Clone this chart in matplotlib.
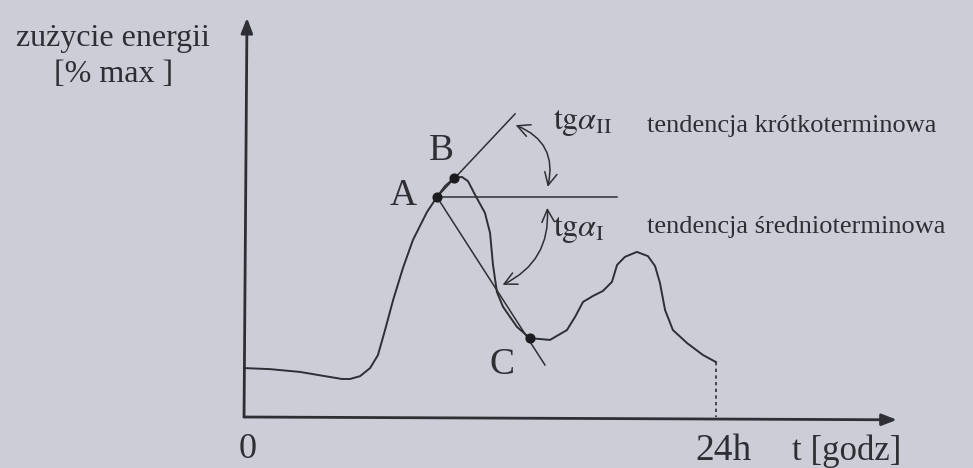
import matplotlib
matplotlib.use('Agg')
import matplotlib.pyplot as plt
from matplotlib.patches import FancyArrowPatch

plt.rcParams['font.family'] = ['Liberation Serif', 'DejaVu Serif']
plt.rcParams['mathtext.fontset'] = 'stix'

# daily energy use, hours vs % of max
hours = [0.0, 1.32, 2.85, 4.12, 4.98, 5.39, 5.90, 6.41, 6.81, 7.17, 7.58, 8.08,
         8.59, 9.30, 9.81, 10.22, 10.68, 11.08, 11.39, 11.75, 12.25, 12.51,
         12.66, 12.86, 13.17, 13.88, 14.54, 15.56, 16.42, 16.83, 17.24, 17.75,
         18.25, 18.71, 18.97, 19.37, 19.98, 20.54, 20.90, 21.15, 21.41, 21.81,
         22.53, 23.34, 24.0]
load = [13.9, 13.6, 12.8, 11.6, 10.8, 10.8, 11.6, 13.9, 17.6, 24.7, 33.2, 42.3,
        50.3, 58.2, 62.5, 65.6, 67.9, 68.2, 67.0, 63.1, 58.0, 52.3,
        43.2, 35.5, 31.3, 25.6, 22.4, 21.9, 24.7, 28.4, 32.7, 34.4,
        35.8, 38.4, 43.2, 45.5, 46.9, 45.7, 42.9, 38.1, 30.4, 24.7,
        21.0, 17.6, 15.6]

point_names = ['A', 'B', 'C']
point_x = [9.81, 10.68, 14.54]
point_y = [62.5, 67.9, 22.4]
label_x = [8.08, 10.02, 13.12]
label_y = [62.8, 75.6, 14.8]

ink = '#2e2e34'

fig = plt.figure(figsize=(9.73, 4.68), dpi=100)
fig.patch.set_facecolor('#cdcdd8')
ax = fig.add_axes([0, 0, 1, 1])
ax.set_facecolor('#cdcdd8')
ax.set_xlim(-12.41, 37.07)
ax.set_ylim(-14.49, 118.47)
ax.axis('off')

# axes with arrow heads
ax.annotate('', xy=(0.15, 113.4), xytext=(0, 0),
            arrowprops=dict(arrowstyle='-|>,head_length=0.9,head_width=0.35',
                            color=ink, lw=2.0, shrinkA=0, shrinkB=0))
ax.annotate('', xy=(33.2, -0.8), xytext=(0, 0),
            arrowprops=dict(arrowstyle='-|>,head_length=0.9,head_width=0.35',
                            color=ink, lw=2.0, shrinkA=0, shrinkB=0))

ax.plot(hours, load, color=ink, lw=1.4)
ax.plot([24, 24], [load[-1], 0], color=ink, lw=1.2, ls=(0, (2, 2)))

# tangents at A
ax.plot([point_x[0], 13.78], [point_y[0], 86.1], color=ink, lw=1.1)
ax.plot([point_x[0], 18.97], [point_y[0], point_y[0]], color=ink, lw=1.1)
ax.plot([point_x[0], 15.30], [point_y[0], 14.8], color=ink, lw=1.1)

ax.scatter(point_x, point_y, s=40, color='#1c1c20', zorder=5)
for name, lx, ly in zip(point_names, label_x, label_y):
    ax.text(lx, ly, name, fontsize=27, ha='center', va='center', color=ink)

# angle arcs
style = '<->,head_length=6,head_width=3'
ax.add_patch(FancyArrowPatch((15.41, 64.6), (13.68, 83.2),
                             connectionstyle='arc3,rad=0.45', arrowstyle=style,
                             color=ink, lw=1.1, mutation_scale=1.5))
ax.add_patch(FancyArrowPatch((15.41, 60.2), (13.02, 37.2),
                             connectionstyle='arc3,rad=-0.35', arrowstyle=style,
                             color=ink, lw=1.1, mutation_scale=1.5))

ax.text(15.71, 83.8, r'$\mathrm{tg}\alpha_{\mathrm{II}}$', fontsize=23,
        ha='left', va='center', color=ink)
ax.text(15.71, 53.4, r'$\mathrm{tg}\alpha_{\mathrm{I}}$', fontsize=23,
        ha='left', va='center', color=ink)
ax.text(20.49, 82.6, 'tendencja krótkoterminowa', fontsize=19,
        ha='left', va='center', color=ink)
ax.text(20.49, 54.0, 'tendencja średnioterminowa', fontsize=19,
        ha='left', va='center', color=ink)

ax.text(-6.66, 107.5, 'zużycie energii', fontsize=23, ha='center', va='center', color=ink)
ax.text(-6.66, 97.2, '[% max ]', fontsize=23, ha='center', va='center', color=ink)
ax.text(0.2, -9.2, '0', fontsize=26, ha='center', va='center', color=ink)
ax.text(24.4, -9.6, '24h', fontsize=27, ha='center', va='center', color=ink)
ax.text(30.65, -9.6, 't [godz]', fontsize=25, ha='center', va='center', color=ink)

fig.savefig('out.png', dpi=100, facecolor=fig.get_facecolor())
